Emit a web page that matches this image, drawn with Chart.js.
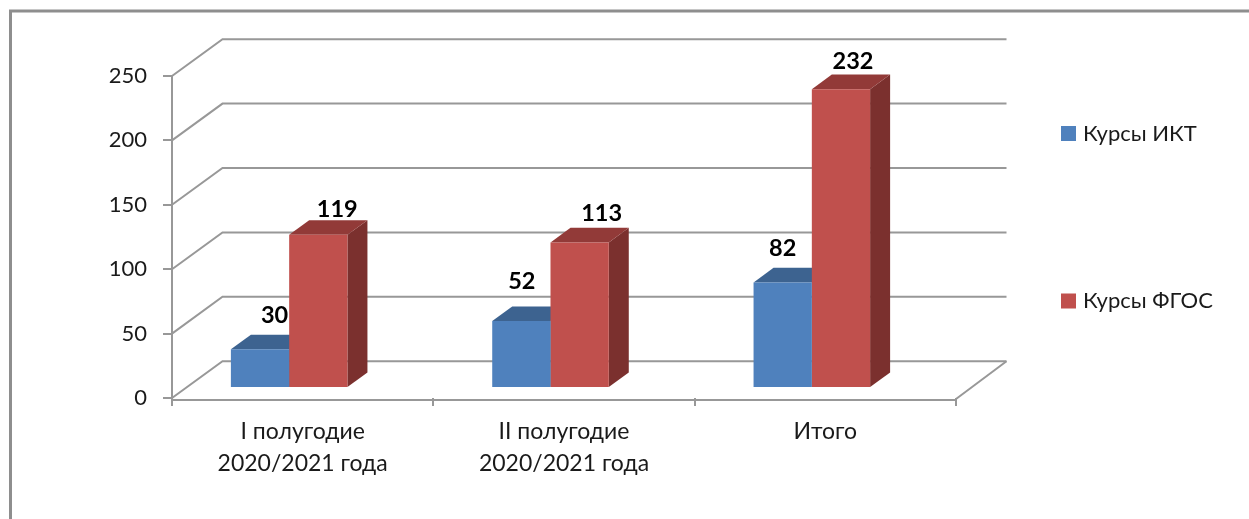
<!DOCTYPE html>
<html lang="ru">
<head>
<meta charset="utf-8">
<title>Курсы</title>
<script src="https://cdn.jsdelivr.net/npm/chart.js@4"></script>
<style>
    html, body { margin: 0; padding: 0; background: #fff; }
    canvas { display: block; }
</style>
</head>
<body>
<canvas id="chart" width="1249" height="519"></canvas>
<script>
const categories = [['I полугодие', '2020/2021 года'], ['II полугодие', '2020/2021 года'], 'Итого'];
const seriesNames = ['Курсы ИКТ', 'Курсы ФГОС'];
const ictValues = [30, 52, 82];
const fgosValues = [119, 113, 232];
const yTicks = [0, 50, 100, 150, 200, 250];

const fontFamily = 'Lato, "Noto Sans", sans-serif';
const textColor = '#1a1a1a';
const lineColor = '#989898';
const frontColors = ['#4f81bd', '#c0504d'];
const topColors = ['#3d6390', '#923a38'];
const sideColors = ['#345577', '#7b302e'];

// the bars stand in the middle of the floor, not on the front edge
const barShift = { x: -13.5, y: -10 };
const barDepth = { x: 20, y: -14.6 };
const wallDepth = { x: 50.5, y: -36.8 };

// data labels were moved by hand in the original: [dx, baseline above the front top]
const labelNudge = [
    [[14.5, 26], [0.5, 32], [0, 26]],
    [[19, 18], [22, 21], [12, 20]]
];

function drawLine(ctx, points, color, width) {
    ctx.beginPath();
    points.forEach((p, i) => i ? ctx.lineTo(p[0], p[1]) : ctx.moveTo(p[0], p[1]));
    ctx.strokeStyle = color;
    ctx.lineWidth = width;
    ctx.stroke();
}

function fillFace(ctx, points, color) {
    ctx.beginPath();
    points.forEach((p, i) => i ? ctx.lineTo(p[0], p[1]) : ctx.moveTo(p[0], p[1]));
    ctx.closePath();
    ctx.fillStyle = color;
    ctx.fill();
}

const depthPlugin = {
    id: 'depth',
    beforeDatasetsDraw(chart) {
        const ctx = chart.ctx;
        const { x, y } = chart.scales;
        const left = x.left, right = x.right;

        // walls
        yTicks.forEach(v => {
            const py = y.getPixelForValue(v);
            drawLine(ctx, [
                [left, py],
                [left + wallDepth.x, py + wallDepth.y],
                [right + wallDepth.x, py + wallDepth.y]
            ], lineColor, 2);
        });
        const floorY = y.getPixelForValue(0);
        drawLine(ctx, [[right, floorY + 1], [right + wallDepth.x, floorY + wallDepth.y]], lineColor, 2);
        drawLine(ctx, [[left, floorY + 2], [right, floorY + 2]], lineColor, 2);

        // sides and tops, then the library paints the fronts over them
        ctx.save();
        ctx.translate(barShift.x, barShift.y);
        chart.data.datasets.forEach((ds, i) => {
            chart.getDatasetMeta(i).data.forEach(bar => {
                const l = bar.x - bar.width / 2;
                const r = bar.x + bar.width / 2;
                const t = bar.y;
                const b = bar.base;
                fillFace(ctx, [[r, t], [r + barDepth.x, t + barDepth.y], [r + barDepth.x, b + barDepth.y], [r, b]], sideColors[i]);
                fillFace(ctx, [[l, t], [l + barDepth.x, t + barDepth.y], [r + barDepth.x, t + barDepth.y], [r, t]], topColors[i]);
            });
        });
        ctx.restore();

        ctx.save();
        ctx.translate(barShift.x, barShift.y);
    },
    afterDatasetsDraw(chart) {
        const ctx = chart.ctx;
        ctx.restore();

        // value labels
        ctx.save();
        ctx.font = 'bold 23.5px ' + fontFamily;
        ctx.fillStyle = '#000';
        ctx.textAlign = 'center';
        ctx.textBaseline = 'alphabetic';
        chart.data.datasets.forEach((ds, i) => {
            chart.getDatasetMeta(i).data.forEach((bar, j) => {
                const n = labelNudge[i][j];
                ctx.fillText(ds.data[j], bar.x + barShift.x + n[0], bar.y + barShift.y - n[1]);
            });
        });
        ctx.restore();

        // picture frame, cut off by the right and bottom edges
        drawLine(ctx, [[10.5, 519], [10.5, 11], [1249, 11]], '#8e8e8e', 3);

        // legend
        const legendRows = [133.5, 301];
        ctx.save();
        ctx.font = '22px ' + fontFamily;
        ctx.textBaseline = 'middle';
        ctx.textAlign = 'left';
        chart.data.datasets.forEach((ds, i) => {
            ctx.fillStyle = frontColors[i];
            ctx.fillRect(1061, legendRows[i] - 7.5, 15, 15);
            ctx.fillStyle = textColor;
            ctx.fillText(ds.label, 1083, legendRows[i]);
        });
        ctx.restore();
    }
};

new Chart(document.getElementById('chart'), {
    type: 'bar',
    data: {
        labels: categories,
        datasets: [
            { label: seriesNames[0], data: ictValues, backgroundColor: frontColors[0] },
            { label: seriesNames[1], data: fgosValues, backgroundColor: frontColors[1] }
        ]
    },
    options: {
        responsive: false,
        animation: false,
        events: [],
        categoryPercentage: 0.446,
        barPercentage: 1,
        layout: { padding: { top: 76, right: 293, left: 0, bottom: 0 } },
        plugins: {
            legend: { display: false },
            tooltip: { enabled: false },
            title: { display: false }
        },
        scales: {
            x: {
                afterFit: scale => { scale.height = 121; },
                border: { display: false },
                grid: { drawOnChartArea: false, color: lineColor, lineWidth: 2, tickLength: 8 },
                ticks: {
                    color: textColor,
                    font: { family: fontFamily, size: 23, lineHeight: 1.4 },
                    padding: 9,
                    autoSkip: false,
                    maxRotation: 0
                }
            },
            y: {
                min: 0,
                max: 250,
                afterFit: scale => { scale.width = 172; },
                border: { color: lineColor, width: 2 },
                grid: { drawOnChartArea: false, color: lineColor, lineWidth: 2, tickLength: 9 },
                ticks: {
                    stepSize: 50,
                    color: textColor,
                    font: { family: fontFamily, size: 22 },
                    padding: 16
                }
            }
        }
    },
    plugins: [depthPlugin]
});
</script>
</body>
</html>
